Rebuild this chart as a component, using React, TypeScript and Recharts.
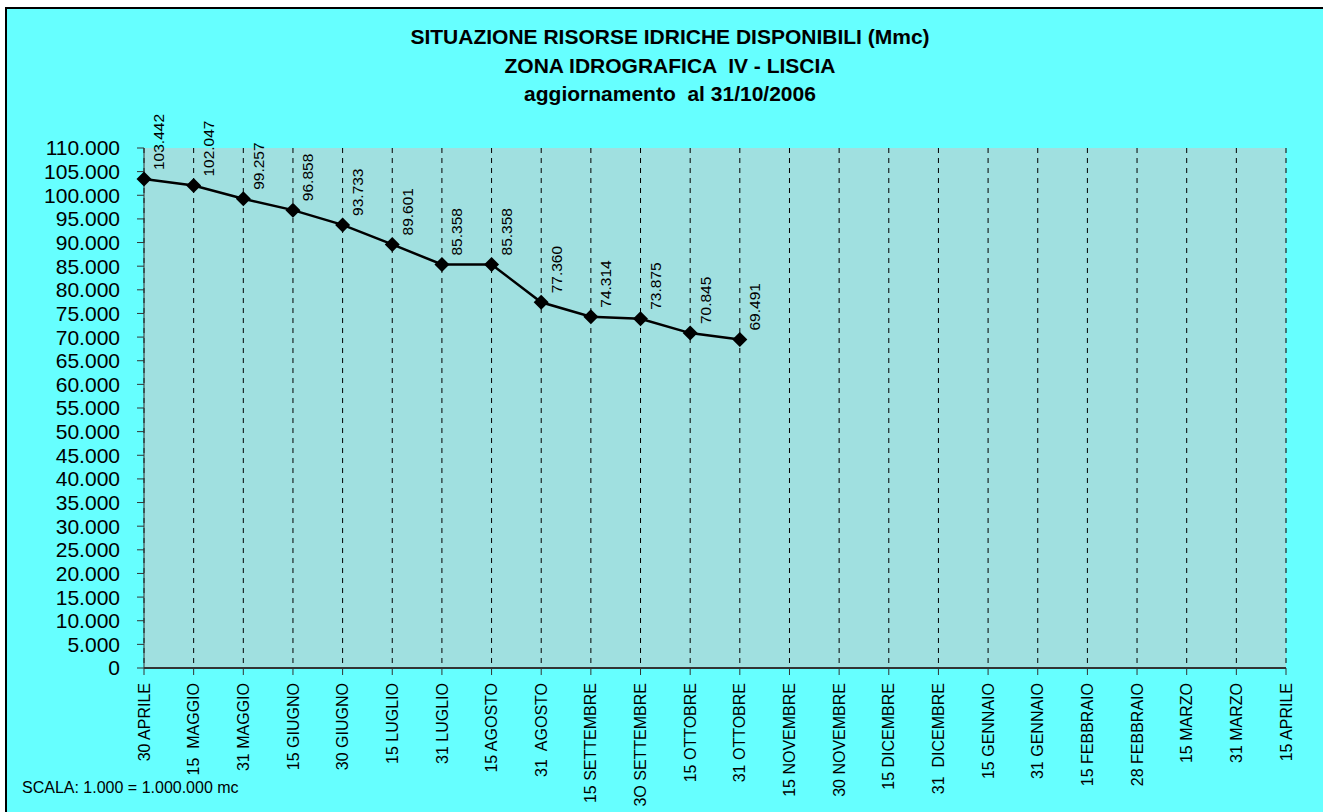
import { LineChart, Line, XAxis, YAxis, CartesianGrid, LabelList } from "recharts";

const categories = [
  "30 APRILE", "15  MAGGIO", "31 MAGGIO", "15 GIUGNO", "30 GIUGNO", "15 LUGLIO",
  "31 LUGLIO", "15 AGOSTO", "31  AGOSTO", "15 SETTEMBRE", "3O SETTEMBRE", "15 OTTOBRE",
  "31 OTTOBRE", "15 NOVEMBRE", "30 NOVEMBRE", "15 DICEMBRE", "31  DICEMBRE", "15 GENNAIO",
  "31 GENNAIO", "15 FEBBRAIO", "28 FEBBRAIO", "15 MARZO", "31 MARZO", "15 APRILE",
];

// volumes in thousands of mc (1.000 = 1.000.000 mc)
const volumes = [
  103442, 102047, 99257, 96858, 93733, 89601, 85358, 85358, 77360, 74314, 73875, 70845, 69491,
];

const yTicks = [
  0, 5000, 10000, 15000, 20000, 25000, 30000, 35000, 40000, 45000, 50000, 55000,
  60000, 65000, 70000, 75000, 80000, 85000, 90000, 95000, 100000, 105000, 110000,
];

const titleLines = [
  "SITUAZIONE RISORSE IDRICHE DISPONIBILI (Mmc)",
  "ZONA IDROGRAFICA  IV - LISCIA",
  "aggiornamento  al 31/10/2006",
];

const FONT = '"Liberation Sans", Arial, sans-serif';

const data = categories.map((label, i) => ({
  label,
  value: i < volumes.length ? volumes[i] : null,
}));

// Italian style thousands separator
function formatIt(n: number) {
  return String(n).replace(/\B(?=(\d{3})+(?!\d))/g, ".");
}

function XTick(props: any) {
  const { x, y, payload } = props;
  return (
    <text
      x={x}
      y={y}
      transform={`rotate(-90, ${x}, ${y})`}
      textAnchor="end"
      dy="0.35em"
      fontSize={16}
      fontFamily={FONT}
      fill="#000"
      style={{ whiteSpace: "pre" }}
    >
      {payload.value}
    </text>
  );
}

function Diamond(props: any) {
  const { cx, cy, value, index } = props;
  if (value == null || cy == null) return <g key={`d-${index}`} />;
  const r = 7.5;
  return (
    <polygon
      key={`d-${index}`}
      points={`${cx},${cy - r} ${cx + r},${cy} ${cx},${cy + r} ${cx - r},${cy}`}
      fill="#000"
    />
  );
}

function ValueLabel(props: any) {
  const { x, y, value, index } = props;
  if (value == null || y == null) return <g key={`l-${index}`} />;
  const ax = x + 15;
  const ay = y - 9;
  return (
    <text
      key={`l-${index}`}
      x={ax}
      y={ay}
      transform={`rotate(-90, ${ax}, ${ay})`}
      textAnchor="start"
      dy="0.35em"
      fontSize={15.5}
      fontFamily={FONT}
      fill="#000"
    >
      {formatIt(value)}
    </text>
  );
}

export default function App() {
  return (
    <div
      style={{
        position: "relative",
        width: 1323,
        height: 812,
        overflow: "hidden",
        background: "#fff",
        fontFamily: FONT,
      }}
    >
      <style>{"body{margin:0}"}</style>
      <div
        style={{
          position: "absolute",
          left: 5,
          top: 7,
          width: 1340,
          height: 830,
          background: "#66FFFF",
          borderLeft: "2px solid #000",
          borderTop: "2px solid #000",
        }}
      />
      <div
        style={{
          position: "absolute",
          left: 0,
          top: 23,
          width: 1340,
          textAlign: "center",
          fontWeight: "bold",
          fontSize: 21,
          lineHeight: "28.5px",
          color: "#000",
        }}
      >
        {titleLines.map((t) => (
          <div key={t} style={{ whiteSpace: "pre" }}>
            {t}
          </div>
        ))}
      </div>
      <div style={{ position: "absolute", left: 0, top: 0 }}>
        <LineChart
          width={1323}
          height={812}
          data={data}
          margin={{ top: 148, right: 37, bottom: 24, left: 44 }}
        >
          <CartesianGrid
            horizontal={false}
            vertical
            stroke="#000"
            strokeDasharray="5 5"
            fill="#A0E0E0"
            fillOpacity={1}
          />
          <XAxis
            dataKey="label"
            interval={0}
            height={120}
            tick={<XTick />}
            tickSize={7}
            tickMargin={8}
            tickLine={{ stroke: "#333" }}
            axisLine={{ stroke: "#333", strokeWidth: 2 }}
          />
          <YAxis
            domain={[0, 110000]}
            ticks={yTicks}
            interval={0}
            width={100}
            tickSize={7}
            tickMargin={17}
            tickFormatter={formatIt}
            tick={{ fontSize: 21, fill: "#000", fontFamily: FONT }}
            tickLine={{ stroke: "#333" }}
            axisLine={{ stroke: "#333" }}
          />
          <Line
            type="linear"
            dataKey="value"
            stroke="#000"
            strokeWidth={2.5}
            dot={<Diamond />}
            activeDot={false}
            isAnimationActive={false}
          >
            <LabelList dataKey="value" content={<ValueLabel />} />
          </Line>
        </LineChart>
      </div>
      <div
        style={{
          position: "absolute",
          left: 22,
          top: 779,
          fontSize: 16,
          lineHeight: "18px",
          color: "#000",
        }}
      >
        SCALA: 1.000 = 1.000.000 mc
      </div>
    </div>
  );
}
